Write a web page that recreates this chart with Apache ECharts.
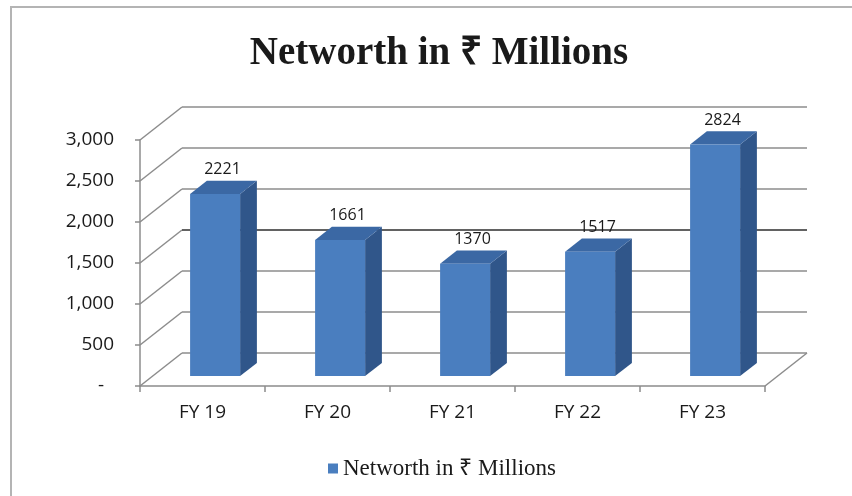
<!DOCTYPE html>
<html>
<head>
<meta charset="utf-8">
<title>Networth in ₹ Millions</title>
<script src="https://cdn.jsdelivr.net/npm/echarts@6/dist/echarts.min.js"></script>
<style>
  html, body { margin: 0; padding: 0; background: #fff; }
  #chart { width: 852px; height: 496px; }
</style>
</head>
<body>
<div id="chart"></div>
<script>
var categories = ['FY 19', 'FY 20', 'FY 21', 'FY 22', 'FY 23'];
var networth = [2221, 1661, 1370, 1517, 2824];
var yTicks = [0, 500, 1000, 1500, 2000, 2500, 3000];
var seriesName = 'Networth in ₹ Millions';

// depth of the fake 3d box (pixels)
var DX = 42, DY = -33;
var gridColor = '#8c8c8c';

var myChart = echarts.init(document.getElementById('chart'));

// back wall + left wall lines, one item per tick value
function wallItem(params, api) {
  var cs = params.coordSys;
  var v = api.value(1);
  var y = api.coord([0, v])[1];
  var left = cs.x, right = cs.x + cs.width;
  var back = v === 1500 ? '#2e2e2e' : gridColor;
  var kids = [
    { type: 'line', shape: { x1: left, y1: y, x2: left + DX, y2: y + DY }, style: { stroke: gridColor, lineWidth: 1.5 } },
    { type: 'line', shape: { x1: left + DX, y1: y + DY, x2: right + DX, y2: y + DY }, style: { stroke: back, lineWidth: 1.5 } }
  ];
  if (v === 0) {
    // right edge of the floor
    kids.push({ type: 'line', shape: { x1: right, y1: y, x2: right + DX, y2: y + DY }, style: { stroke: gridColor, lineWidth: 1.5 } });
  }
  return { type: 'group', children: kids };
}

// 3d looking bar: front, side, top and value label
function barItem(params, api) {
  var i = api.value(0), v = api.value(1);
  var base = api.coord([i, 0]);
  var top = api.coord([i, v]);
  var band = api.size([1, 0])[0];
  var w = band * 0.4;
  var ox = DX * 0.3, oy = DY * 0.3;   // bars sit in the middle of the depth
  var dx = DX * 0.4, dy = DY * 0.4;   // bar depth
  var xl = base[0] - w / 2 + ox, xr = xl + w;
  var yb = base[1] + oy, yt = top[1] + oy;
  return {
    type: 'group',
    children: [
      { type: 'polygon', shape: { points: [[xr, yt], [xr + dx, yt + dy], [xr + dx, yb + dy], [xr, yb]] }, style: { fill: '#30568a' } },
      { type: 'polygon', shape: { points: [[xl, yt], [xr, yt], [xr + dx, yt + dy], [xl + dx, yt + dy]] }, style: { fill: '#3b68a4' } },
      { type: 'rect', shape: { x: xl, y: yt, width: w, height: yb - yt }, style: { fill: '#4a7ebf' } },
      { type: 'text', style: { text: String(v), x: xl + (w + dx) / 2 - 1, y: yt + dy - 3, align: 'center', verticalAlign: 'bottom', font: '16px "Open Sans"', fill: '#1a1a1a' } }
    ]
  };
}

var option = {
  backgroundColor: '#fff',
  animation: false,
  grid: { left: 140, right: 87, top: 140, bottom: 110 },
  graphic: [
    { type: 'rect', shape: { x: 11, y: 7, width: 900, height: 600 }, style: { fill: 'none', stroke: '#b4b4b4', lineWidth: 2 } },
    { type: 'text', style: { text: seriesName, x: 439, y: 54, align: 'center', verticalAlign: 'middle', font: 'bold 39px "Liberation Serif"', fill: '#1a1a1a' } }
  ],
  legend: {
    data: [{ name: seriesName, itemStyle: { color: '#4a7ebf' } }],
    icon: 'rect',
    itemWidth: 10,
    itemHeight: 10,
    left: 323,
    top: 452,
    textStyle: { fontFamily: 'Liberation Serif', fontSize: 23, color: '#1a1a1a' }
  },
  xAxis: {
    type: 'category',
    data: categories,
    axisLine: { lineStyle: { color: gridColor, width: 1.5 } },
    axisTick: { show: true, length: 6, lineStyle: { color: gridColor, width: 1.5 } },
    axisLabel: { fontFamily: 'Open Sans', fontSize: 19, color: '#1a1a1a', margin: 17 },
    splitLine: { show: false }
  },
  yAxis: {
    type: 'value',
    min: 0,
    max: 3000,
    interval: 500,
    axisLine: { show: true, lineStyle: { color: gridColor, width: 1.5 } },
    axisTick: { show: true, length: 5, lineStyle: { color: gridColor, width: 1.5 } },
    axisLabel: {
      fontFamily: 'Open Sans', fontSize: 19, color: '#1a1a1a', margin: 26,
      formatter: function (v) { return v === 0 ? '-  ' : v.toLocaleString('en-US'); }
    },
    splitLine: { show: false }
  },
  series: [
    {
      type: 'custom',
      name: 'walls',
      z: 1,
      silent: true,
      renderItem: wallItem,
      data: yTicks.map(function (v) { return [0, v]; })
    },
    {
      type: 'custom',
      name: seriesName,
      z: 2,
      itemStyle: { color: '#4a7ebf' },
      renderItem: barItem,
      data: networth.map(function (v, i) { return [i, v]; })
    }
  ]
};
myChart.setOption(option);
</script>
</body>
</html>
